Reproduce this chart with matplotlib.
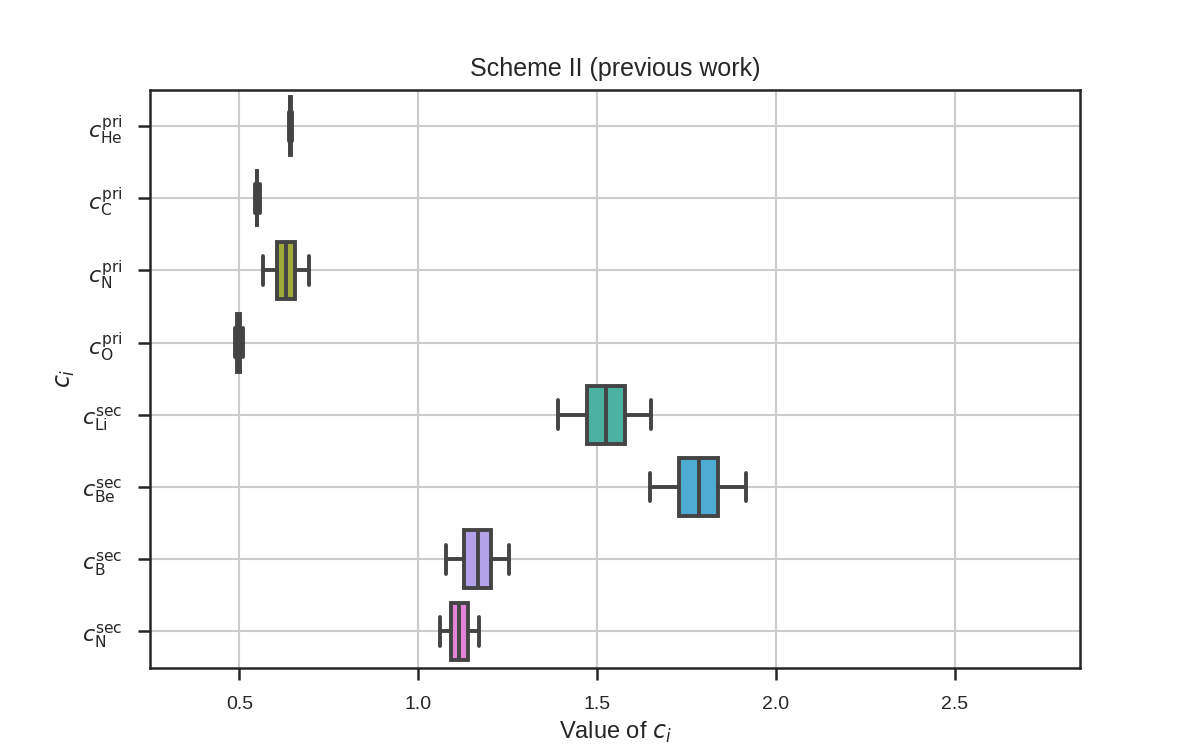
import numpy as np
import matplotlib
matplotlib.use("Agg")
import matplotlib.pyplot as plt
import seaborn as sns

# Box statistics
labels = [r"$c^{\rm pri}_{\rm He}$", r"$c^{\rm pri}_{\rm C}$", r"$c^{\rm pri}_{\rm N}$",
          r"$c^{\rm pri}_{\rm O}$", r"$c^{\rm sec}_{\rm Li}$", r"$c^{\rm sec}_{\rm Be}$",
          r"$c^{\rm sec}_{\rm B}$", r"$c^{\rm sec}_{\rm N}$"]
whislo = [0.638, 0.543, 0.566, 0.488, 1.392, 1.649, 1.077, 1.060]
q1 = [0.6415, 0.549, 0.606, 0.494, 1.471, 1.728, 1.129, 1.092]
med = [0.6425, 0.5495, 0.630, 0.498, 1.524, 1.785, 1.166, 1.114]
q3 = [0.6435, 0.550, 0.655, 0.503, 1.578, 1.838, 1.202, 1.138]
whishi = [0.647, 0.557, 0.694, 0.509, 1.652, 1.916, 1.255, 1.169]

sns.set_style("ticks")
plt.rcParams['font.family'] = ['Liberation Sans', 'DejaVu Sans']
plt.rcParams['mathtext.fontset'] = 'dejavusans'

# husl-like palette, as it looks in the reference
pal = ['#E0828F', '#C29A55', '#A0AA3A', '#52B06A', '#4CB1A1', '#4EABD2', '#B3A2EA', '#E383D8']
edge = '#444444'
lw = 2.8

fig, ax = plt.subplots(figsize=(12, 7.5), dpi=100)
ax.grid(True, color='#cccccc', linewidth=1.5, zorder=0)
ax.set_axisbelow(True)

stats = []
for i in range(len(labels)):
    stats.append(dict(whislo=whislo[i], q1=q1[i], med=med[i], q3=q3[i],
                      whishi=whishi[i], fliers=[]))
pos = np.arange(len(labels))
bp = ax.bxp(stats, positions=pos, vert=False, widths=0.8, capwidths=0.4,
            patch_artist=True, showfliers=False,
            boxprops=dict(edgecolor=edge, linewidth=lw),
            medianprops=dict(color=edge, linewidth=lw),
            whiskerprops=dict(color=edge, linewidth=lw),
            capprops=dict(color=edge, linewidth=lw))
for patch, c in zip(bp['boxes'], pal):
    patch.set_facecolor(c)
    patch.set_zorder(2)

ax.set_yticks(pos)
ax.set_yticklabels(labels)
ax.set_ylim(len(labels) - 0.5, -0.5)
ax.set_xlim(0.25, 2.85)
ax.set_xticks([0.5, 1.0, 1.5, 2.0, 2.5])
ax.set_xticklabels(['0.5', '1.0', '1.5', '2.0', '2.5'])

for s in ax.spines.values():
    s.set_linewidth(1.8)
    s.set_color('#262626')
ax.tick_params(axis='both', length=8.5, width=1.8, color='#262626')
ax.tick_params(axis='x', labelsize=14, pad=12)
ax.tick_params(axis='y', labelsize=16, pad=11)

ax.set_title("Scheme II (previous work)", fontsize=18, pad=10)
ax.set_xlabel("Value of $c_i$", fontsize=17, labelpad=5)
ax.set_ylabel("$c_i$", fontsize=17, labelpad=4)

plt.savefig("out.png", dpi=100)
